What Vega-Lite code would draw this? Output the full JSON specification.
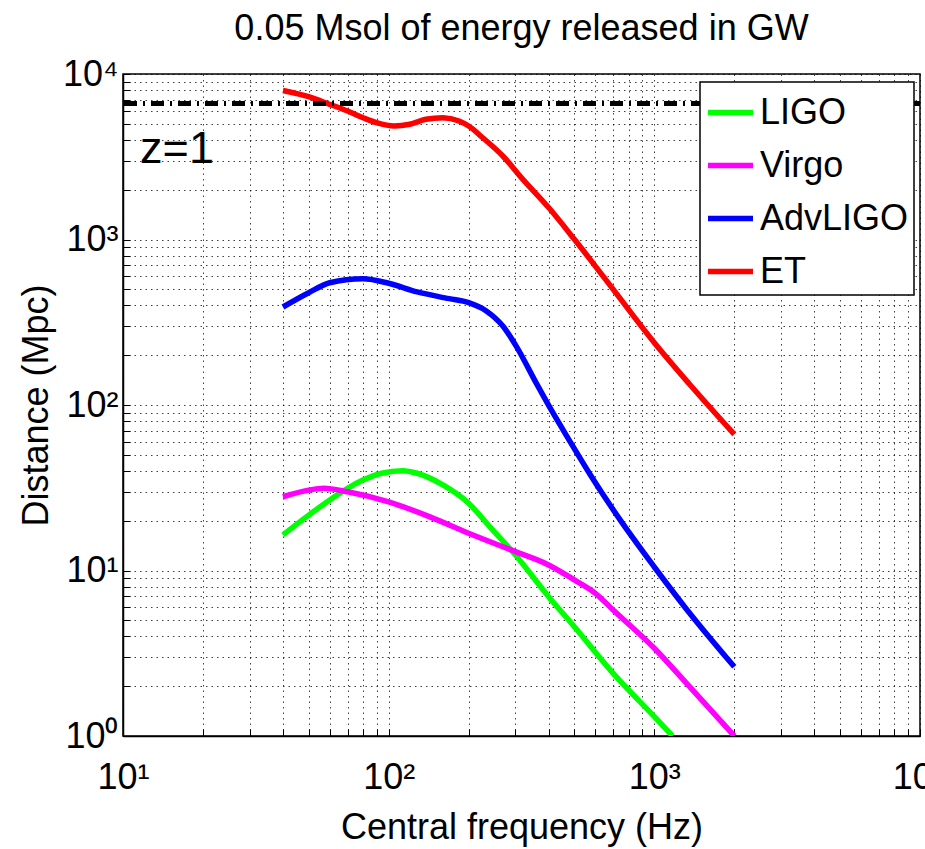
{
  "$schema": "https://vega.github.io/schema/vega-lite/v6.json",
  "width": 797,
  "height": 662,
  "autosize": "none",
  "padding": {"left": 123, "top": 74, "right": 5, "bottom": 113},
  "background": "white",
  "title": {
    "text": "0.05 Msol of energy released in GW",
    "font": "Liberation Sans",
    "fontSize": 36,
    "fontWeight": "normal",
    "color": "black",
    "anchor": "middle",
    "frame": "group",
    "offset": 8
  },
  "config": {
    "font": "Liberation Sans",
    "view": {"stroke": "black", "strokeWidth": 1.5},
    "axis": {
      "grid": true,
      "gridColor": "black",
      "gridDash": [1.5, 4],
      "gridOpacity": 0.75,
      "gridWidth": 1,
      "domainColor": "black",
      "domainWidth": 1.5,
      "tickColor": "black",
      "tickSize": -7,
      "tickWidth": 1,
      "labelFont": "Liberation Sans",
      "labelFontSize": 36,
      "labelColor": "black",
      "labelFlush": false,
      "labelOverlap": false,
      "labelBound": false,
      "titleFont": "Liberation Sans",
      "titleFontSize": 36,
      "titleFontWeight": "normal",
      "titleColor": "black"
    },
    "legend": {
      "orient": "none",
      "legendX": 577,
      "legendY": 8,
      "symbolType": "stroke",
      "symbolSize": 2025,
      "symbolStrokeWidth": 5.5,
      "labelFont": "Liberation Sans",
      "labelFontSize": 36,
      "labelColor": "black",
      "labelOffset": 4,
      "labelLimit": 300,
      "rowPadding": 9,
      "padding": 5,
      "strokeColor": "black",
      "strokeWidth": 1.5,
      "fillColor": "white",
      "cornerRadius": 0
    }
  },
  "layer": [
    {
      "data": {
        "values": [
          {"series": "LIGO", "f": 40, "d": 16.4},
          {"series": "LIGO", "f": 50, "d": 21.6},
          {"series": "LIGO", "f": 60, "d": 26.7},
          {"series": "LIGO", "f": 70, "d": 31.4},
          {"series": "LIGO", "f": 80, "d": 35.2},
          {"series": "LIGO", "f": 94, "d": 38.7},
          {"series": "LIGO", "f": 113, "d": 40.1},
          {"series": "LIGO", "f": 128, "d": 38.7},
          {"series": "LIGO", "f": 160, "d": 32.9},
          {"series": "LIGO", "f": 200, "d": 25.5},
          {"series": "LIGO", "f": 240, "d": 18.4},
          {"series": "LIGO", "f": 300, "d": 12.4},
          {"series": "LIGO", "f": 400, "d": 6.95},
          {"series": "LIGO", "f": 500, "d": 4.57},
          {"series": "LIGO", "f": 700, "d": 2.39},
          {"series": "LIGO", "f": 1000, "d": 1.31},
          {"series": "LIGO", "f": 1170, "d": 1.0},
          {"series": "Virgo", "f": 40, "d": 27.9},
          {"series": "Virgo", "f": 50, "d": 30.6},
          {"series": "Virgo", "f": 57, "d": 31.4},
          {"series": "Virgo", "f": 70, "d": 29.9},
          {"series": "Virgo", "f": 100, "d": 26.0},
          {"series": "Virgo", "f": 143, "d": 21.1},
          {"series": "Virgo", "f": 200, "d": 16.8},
          {"series": "Virgo", "f": 300, "d": 13.0},
          {"series": "Virgo", "f": 400, "d": 10.8},
          {"series": "Virgo", "f": 500, "d": 8.77},
          {"series": "Virgo", "f": 600, "d": 7.28},
          {"series": "Virgo", "f": 700, "d": 5.77},
          {"series": "Virgo", "f": 1000, "d": 3.39},
          {"series": "Virgo", "f": 1315, "d": 2.1},
          {"series": "Virgo", "f": 2000, "d": 1.0},
          {"series": "AdvLIGO", "f": 40, "d": 391},
          {"series": "AdvLIGO", "f": 50, "d": 477},
          {"series": "AdvLIGO", "f": 60, "d": 548},
          {"series": "AdvLIGO", "f": 80, "d": 580},
          {"series": "AdvLIGO", "f": 100, "d": 544},
          {"series": "AdvLIGO", "f": 128, "d": 482},
          {"series": "AdvLIGO", "f": 169, "d": 439},
          {"series": "AdvLIGO", "f": 200, "d": 415},
          {"series": "AdvLIGO", "f": 233, "d": 370},
          {"series": "AdvLIGO", "f": 269, "d": 300},
          {"series": "AdvLIGO", "f": 302, "d": 227},
          {"series": "AdvLIGO", "f": 359, "d": 136},
          {"series": "AdvLIGO", "f": 415, "d": 89.8},
          {"series": "AdvLIGO", "f": 478, "d": 61.4},
          {"series": "AdvLIGO", "f": 570, "d": 38.6},
          {"series": "AdvLIGO", "f": 739, "d": 20.5},
          {"series": "AdvLIGO", "f": 1000, "d": 10.5},
          {"series": "AdvLIGO", "f": 1315, "d": 5.9},
          {"series": "AdvLIGO", "f": 2000, "d": 2.62},
          {"series": "ET", "f": 40, "d": 7950},
          {"series": "ET", "f": 50, "d": 7290},
          {"series": "ET", "f": 60, "d": 6560},
          {"series": "ET", "f": 70, "d": 5975},
          {"series": "ET", "f": 80, "d": 5445},
          {"series": "ET", "f": 90, "d": 5078},
          {"series": "ET", "f": 105, "d": 4850},
          {"series": "ET", "f": 120, "d": 4970},
          {"series": "ET", "f": 138, "d": 5325},
          {"series": "ET", "f": 160, "d": 5445},
          {"series": "ET", "f": 184, "d": 5200},
          {"series": "ET", "f": 200, "d": 4850},
          {"series": "ET", "f": 226, "d": 4120},
          {"series": "ET", "f": 269, "d": 3195},
          {"series": "ET", "f": 320, "d": 2310},
          {"series": "ET", "f": 400, "d": 1560},
          {"series": "ET", "f": 500, "d": 1003},
          {"series": "ET", "f": 700, "d": 500},
          {"series": "ET", "f": 1000, "d": 238},
          {"series": "ET", "f": 1355, "d": 134},
          {"series": "ET", "f": 2000, "d": 66.5}
        ]
      },
      "mark": {"type": "line", "strokeWidth": 5.5, "clip": true, "strokeJoin": "round", "interpolate": "monotone"},
      "encoding": {
        "x": {
          "field": "f",
          "type": "quantitative",
          "scale": {"type": "log", "domain": [10, 10000], "nice": false},
          "axis": {
            "title": "Central frequency (Hz)",
            "titleBaseline": "alphabetic",
            "titleY": 102,
            "labelBaseline": "alphabetic",
            "labelPadding": 59,
            "values": [10, 20, 30, 40, 50, 60, 70, 80, 90, 100, 200, 300, 400, 500, 600, 700, 800, 900, 1000, 2000, 3000, 4000, 5000, 6000, 7000, 8000, 9000, 10000],
            "labelExpr": "datum.value == 10 ? '10¹' : datum.value == 100 ? '10²' : datum.value == 1000 ? '10³' : datum.value == 10000 ? '10⁴' : ''"
          }
        },
        "y": {
          "field": "d",
          "type": "quantitative",
          "scale": {"type": "log", "domain": [1, 10000], "nice": false},
          "axis": {
            "title": "Distance (Mpc)",
            "titleX": -76,
            "titleY": 331,
            "titleAngle": -90,
            "titleAlign": "center",
            "titleBaseline": "alphabetic",
            "labelPadding": 12,
            "labelBaseline": "middle",
            "values": [1, 2, 3, 4, 5, 6, 7, 8, 9, 10, 20, 30, 40, 50, 60, 70, 80, 90, 100, 200, 300, 400, 500, 600, 700, 800, 900, 1000, 2000, 3000, 4000, 5000, 6000, 7000, 8000, 9000, 10000],
            "labelExpr": "datum.value == 1 ? '10⁰' : datum.value == 10 ? '10¹' : datum.value == 100 ? '10²' : datum.value == 1000 ? '10³' : datum.value == 10000 ? '10⁴' : ''"
          }
        },
        "color": {
          "field": "series",
          "type": "nominal",
          "scale": {"domain": ["LIGO", "Virgo", "AdvLIGO", "ET"], "range": ["#00ff00", "#ff00ff", "#0000ff", "#ff0000"]},
          "legend": {"title": null}
        }
      }
    },
    {
      "data": {"values": [{"d": 6630}]},
      "mark": {"type": "rule", "color": "black", "strokeWidth": 5, "strokeDash": [13, 6, 2, 6]},
      "encoding": {
        "y": {"field": "d", "type": "quantitative"}
      }
    },
    {
      "data": {"values": [{"f": 11.6, "d": 2900, "label": "z=1"}]},
      "mark": {"type": "text", "fontSize": 45, "align": "left", "baseline": "alphabetic", "color": "black", "font": "Liberation Sans"},
      "encoding": {
        "x": {"field": "f", "type": "quantitative"},
        "y": {"field": "d", "type": "quantitative"},
        "text": {"field": "label"}
      }
    }
  ]
}
